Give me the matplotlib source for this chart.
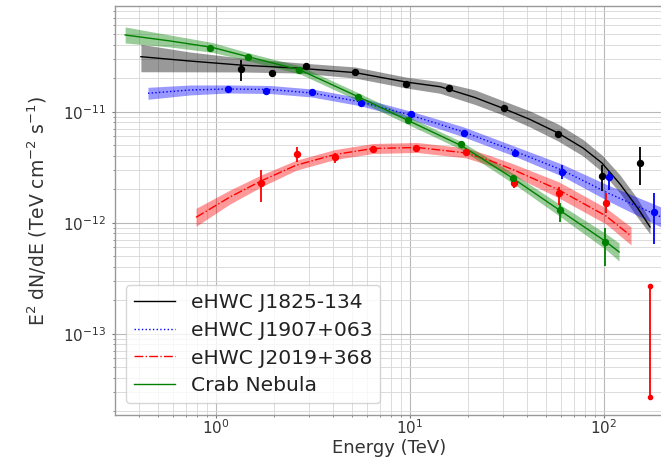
import matplotlib
matplotlib.use("Agg")
import matplotlib.pyplot as plt

# ---------------- data ----------------
# eHWC J1825-134 fit + band
j1825_fitE = [0.410, 0.734, 1.345, 2.71, 5.21, 9.54, 14.28, 21.63, 30.16, 41.55, 57.9, 77.95, 97.6,
              120.9, 147.9, 172.7]
j1825_fitF = [3.13e-11, 2.86e-11, 2.63e-11, 2.46e-11, 2.25e-11, 1.85e-11, 1.68e-11, 1.342e-11,
              1.073e-11, 8.51e-12, 6.43e-12, 4.71e-12, 3.45e-12, 2.23e-12, 1.384e-12, 9.15e-13]
j1825_fitHi = [4.05e-11, 3.45e-11, 3.05e-11, 2.75e-11, 2.53e-11, 2.05e-11, 1.864e-11, 1.569e-11,
               1.256e-11, 1.015e-11, 7.75e-12, 5.62e-12, 4.07e-12, 2.69e-12, 1.669e-12, 1.057e-12]
j1825_fitLo = [2.29e-11, 2.287e-11, 2.28e-11, 2.23e-11, 2.01e-11, 1.635e-11, 1.465e-11, 1.161e-11,
               9.34e-12, 7.28e-12, 5.45e-12, 3.99e-12, 2.88e-12, 1.852e-12, 1.132e-12, 7.91e-13]
j1825_E = [1.35, 1.95, 2.91, 5.21, 9.5, 15.9, 30.4, 58.1, 98.0, 152.8]
j1825_F = [2.43e-11, 2.22e-11, 2.59e-11, 2.26e-11, 1.77e-11, 1.63e-11, 1.09e-11, 6.3e-12, 2.65e-12, 3.47e-12]
j1825_lo = [1.89e-11, 2.12e-11, 2.45e-11, 2.18e-11, 1.71e-11, 1.57e-11, 1.04e-11, 5.9e-12, 1.94e-12, 2.17e-12]
j1825_hi = [2.92e-11, 2.32e-11, 2.73e-11, 2.34e-11, 1.83e-11, 1.69e-11, 1.14e-11, 6.75e-12, 3.31e-12, 4.78e-12]

# eHWC J1907+063
j1907_fitE = [0.446, 0.734, 1.153, 1.898, 3.126, 5.525, 10.0, 18.76, 34.4, 60.7, 104.9, 196.7]
j1907_fitF = [1.465e-11, 1.569e-11, 1.602e-11, 1.585e-11, 1.474e-11, 1.230e-11, 9.34e-12, 6.60e-12,
              4.43e-12, 2.98e-12, 1.85e-12, 1.125e-12]
j1907_fitLo = [1.294e-11, 1.415e-11, 1.474e-11, 1.458e-11, 1.356e-11, 1.132e-11, 8.59e-12, 5.95e-12,
               3.99e-12, 2.63e-12, 1.57e-12, 9.14e-13]
j1907_fitHi = [1.658e-11, 1.740e-11, 1.741e-11, 1.723e-11, 1.602e-11, 1.337e-11, 1.015e-11, 7.32e-12,
               4.91e-12, 3.37e-12, 2.18e-12, 1.385e-12]
j1907_E = [1.157, 1.80, 3.12, 5.57, 10.1, 19.05, 34.8, 61.0, 105.7, 181.0]
j1907_F = [1.61e-11, 1.54e-11, 1.51e-11, 1.21e-11, 9.48e-12, 6.39e-12, 4.27e-12, 2.86e-12, 2.56e-12, 1.25e-12]
j1907_lo = [1.54e-11, 1.47e-11, 1.44e-11, 1.15e-11, 9.0e-12, 6.05e-12, 3.9e-12, 2.5e-12, 1.97e-12, 6.43e-13]
j1907_hi = [1.68e-11, 1.61e-11, 1.58e-11, 1.27e-11, 9.95e-12, 6.75e-12, 4.65e-12, 3.3e-12, 2.95e-12, 1.87e-12]

# eHWC J2019+368
j2019_fitE = [0.789, 1.181, 1.706, 2.585, 4.107, 6.447, 10.87, 19.44, 25.85, 34.37, 58.6, 102.4, 137.8]
j2019_fitF = [1.118e-12, 1.704e-12, 2.375e-12, 3.29e-12, 4.115e-12, 4.66e-12, 4.76e-12, 4.25e-12,
              3.63e-12, 2.98e-12, 1.97e-12, 1.149e-12, 7.59e-13]
j2019_fitLo = [9.28e-13, 1.474e-12, 2.098e-12, 2.967e-12, 3.71e-12, 4.20e-12, 4.29e-12, 3.83e-12,
               3.27e-12, 2.63e-12, 1.668e-12, 9.73e-13, 6.30e-13]
j2019_fitHi = [1.347e-12, 1.970e-12, 2.688e-12, 3.649e-12, 4.56e-12, 5.17e-12, 5.28e-12, 4.71e-12,
               4.03e-12, 3.37e-12, 2.327e-12, 1.357e-12, 9.15e-13]
j2019_E = [1.71, 2.61, 4.12, 6.47, 10.8, 19.4, 34.5, 58.8, 102.0]
j2019_F = [2.26e-12, 4.13e-12, 3.88e-12, 4.58e-12, 4.74e-12, 4.36e-12, 2.29e-12, 1.84e-12, 1.51e-12]
j2019_lo = [1.55e-12, 3.55e-12, 3.47e-12, 4.36e-12, 4.51e-12, 4.15e-12, 2.05e-12, 1.44e-12, 1.22e-12]
j2019_hi = [2.99e-12, 4.78e-12, 4.28e-12, 4.81e-12, 4.98e-12, 4.58e-12, 2.53e-12, 2.08e-12, 1.84e-12]
j2019_lastE = [172.6]
j2019_lastTop = [2.71e-13]
j2019_lastBot = [2.67e-14]

# Crab Nebula
crab_fitE = [0.340, 0.579, 0.954, 1.462, 2.71, 5.40, 9.65, 18.54, 33.96, 59.3, 102.4, 119.5]
crab_fitF = [4.91e-11, 4.34e-11, 3.80e-11, 3.13e-11, 2.375e-11, 1.365e-11, 8.42e-12, 4.91e-12,
             2.51e-12, 1.288e-12, 6.74e-13, 5.45e-13]
crab_fitLo = [4.16e-11, 3.83e-11, 3.43e-11, 2.88e-11, 2.185e-11, 1.256e-11, 7.75e-12, 4.52e-12,
              2.26e-12, 1.138e-12, 5.71e-13, 4.52e-13]
crab_fitHi = [5.80e-11, 4.91e-11, 4.21e-11, 3.40e-11, 2.58e-11, 1.484e-11, 9.15e-12, 5.34e-12,
              2.78e-12, 1.458e-12, 7.96e-13, 6.57e-13]
crab_E = [0.931, 1.46, 2.68, 5.41, 9.8, 18.3, 33.8, 59.5, 101.6]
crab_F = [3.78e-11, 3.13e-11, 2.38e-11, 1.37e-11, 8.37e-12, 5.12e-12, 2.51e-12, 1.29e-12, 6.74e-13]
crab_lo = [3.62e-11, 3.0e-11, 2.28e-11, 1.31e-11, 8.0e-12, 4.9e-12, 2.38e-12, 1.02e-12, 4.1e-13]
crab_hi = [3.94e-11, 3.26e-11, 2.48e-11, 1.43e-11, 8.75e-12, 5.35e-12, 2.65e-12, 1.50e-12, 8.9e-13]

labels = ["eHWC J1825-134", "eHWC J1907+063", "eHWC J2019+368", "Crab Nebula"]
x_ticks = [1, 10, 100]
y_ticks = [1e-13, 1e-12, 1e-11]
x_limits = (0.3015, 201.4)
y_limits = (1.85e-14, 8.96e-11)

# ---------------- figure ----------------
fig = plt.figure(figsize=(6.61, 4.61), dpi=100)
ax = fig.add_axes([115 / 661, 46 / 461, 548 / 661, 409 / 461])
ax.set_xscale("log")
ax.set_yscale("log")

series = [
    (j1825_fitE, j1825_fitF, j1825_fitLo, j1825_fitHi, j1825_E, j1825_F, j1825_lo, j1825_hi, "black", "-"),
    (j1907_fitE, j1907_fitF, j1907_fitLo, j1907_fitHi, j1907_E, j1907_F, j1907_lo, j1907_hi, "blue", ":"),
    (j2019_fitE, j2019_fitF, j2019_fitLo, j2019_fitHi, j2019_E, j2019_F, j2019_lo, j2019_hi, "red", "-."),
    (crab_fitE, crab_fitF, crab_fitLo, crab_fitHi, crab_E, crab_F, crab_lo, crab_hi, "green", "-"),
]

handles = []
for (fe, ff, flo, fhi, pe, pf, plo, phi, col, ls), lab in zip(series, labels):
    ax.fill_between(fe, flo, fhi, color=col, alpha=0.4, lw=0, zorder=2)
    h, = ax.plot(fe, ff, color=col, ls=ls, lw=1.0, zorder=3, label=lab)
    handles.append(h)
    yerr = [[f - l for f, l in zip(pf, plo)], [u - f for f, u in zip(pf, phi)]]
    ax.errorbar(pe, pf, yerr=yerr, fmt="o", color=col, ms=4.3, elinewidth=1.3,
                capsize=0, zorder=4)

# last J2019 point: long vertical bar with dots at both ends
ax.vlines(j2019_lastE, j2019_lastBot, j2019_lastTop, color="red", lw=1.3, zorder=4)
ax.plot(j2019_lastE * 2, j2019_lastTop + j2019_lastBot, "o", color="red", ms=3, lw=0, zorder=4)

ax.set_xticks(x_ticks)
ax.set_yticks(y_ticks)
ax.set_xlim(*x_limits)
ax.set_ylim(*y_limits)

ax.grid(True, which="major", color="#b8b8b8", lw=0.8)
ax.grid(True, which="minor", color="#d6d6d6", lw=0.6)
ax.set_axisbelow(True)
for s in ax.spines.values():
    s.set_color("#999999")
    s.set_linewidth(1.0)
ax.tick_params(which="both", colors="#777777", labelcolor="#333333", labelsize=11)
ax.tick_params(which="major", length=2.5)
ax.tick_params(which="minor", length=1.5)
ax.tick_params(axis="x", which="both", pad=0)
ax.tick_params(axis="y", which="both", pad=4)

ax.set_xlabel("Energy (TeV)", fontsize=13, color="#333333", labelpad=1)
ax.set_ylabel(r"E$^2$ dN/dE (TeV cm$^{-2}$ s$^{-1}$)", fontsize=13.5, color="#333333",
              labelpad=10)

leg = ax.legend(handles=handles, loc="lower left", bbox_to_anchor=(0.02, 0.029),
                borderaxespad=0, fontsize=14.6, labelspacing=0.42, frameon=True)
for t in leg.get_texts():
    t.set_color("#222222")

fig.savefig("out.png", dpi=100)
